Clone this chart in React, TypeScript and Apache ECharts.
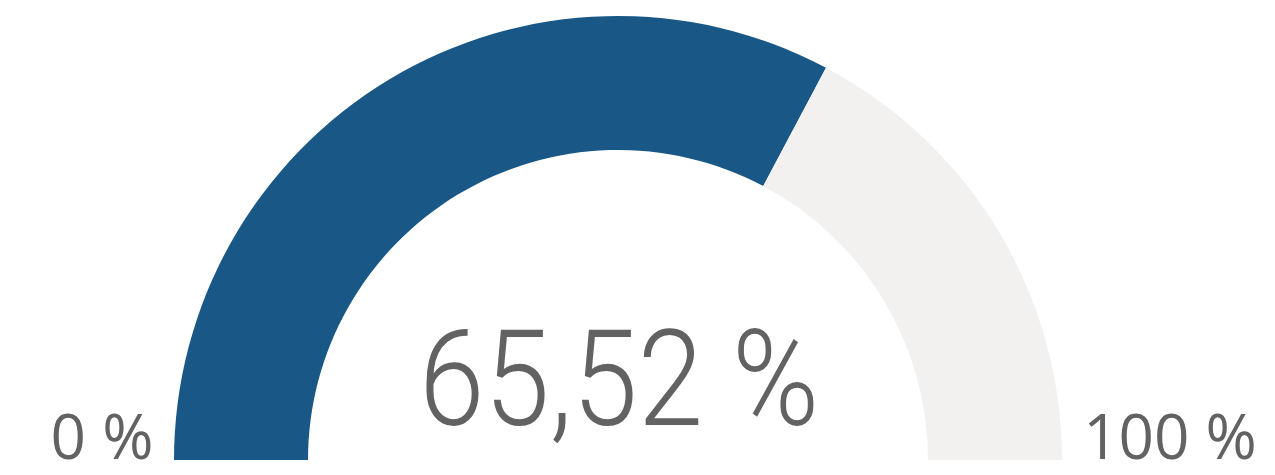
import React, { useEffect, useRef } from "react";
import * as echarts from "echarts";

const value = 65.52;
const maxValue = 100;
const valueLabel = "65,52 %";
const minLabel = "0 %";
const maxLabel = "100 %";

export default function App() {
  const ref = useRef<HTMLDivElement>(null);
  useEffect(() => {
    document.body.style.margin = "0";
    const chart = echarts.init(ref.current!, null, { renderer: "svg" });
    chart.setOption({
      animation: false,
      backgroundColor: "#ffffff",
      series: [
        {
          type: "pie",
          center: [618, 460],
          radius: [310, 444],
          startAngle: 180,
          clockwise: true,
          silent: true,
          label: { show: false },
          labelLine: { show: false },
          data: [
            { value: value, itemStyle: { color: "#195886" } },
            { value: maxValue - value, itemStyle: { color: "#f2f1f0" } },
            { value: maxValue, itemStyle: { color: "transparent" } },
          ],
        },
      ],
      graphic: [
        {
          type: "text",
          x: 619,
          y: 446,
          scaleX: 0.88,
          style: {
            text: valueLabel,
            font: "300 134px Roboto",
            fill: "#626262",
            align: "center",
            verticalAlign: "bottom",
          },
        },
        {
          type: "text",
          x: 102,
          y: 466,
          style: {
            text: minLabel,
            font: "400 62px 'Open Sans'",
            fill: "#626262",
            align: "center",
            verticalAlign: "bottom",
          },
        },
        {
          type: "text",
          x: 1170,
          y: 466,
          style: {
            text: maxLabel,
            font: "400 62px 'Open Sans'",
            fill: "#626262",
            align: "center",
            verticalAlign: "bottom",
          },
        },
      ],
    });
    return () => chart.dispose();
  }, []);
  return <div ref={ref} style={{ width: 1275, height: 475 }} />;
}
